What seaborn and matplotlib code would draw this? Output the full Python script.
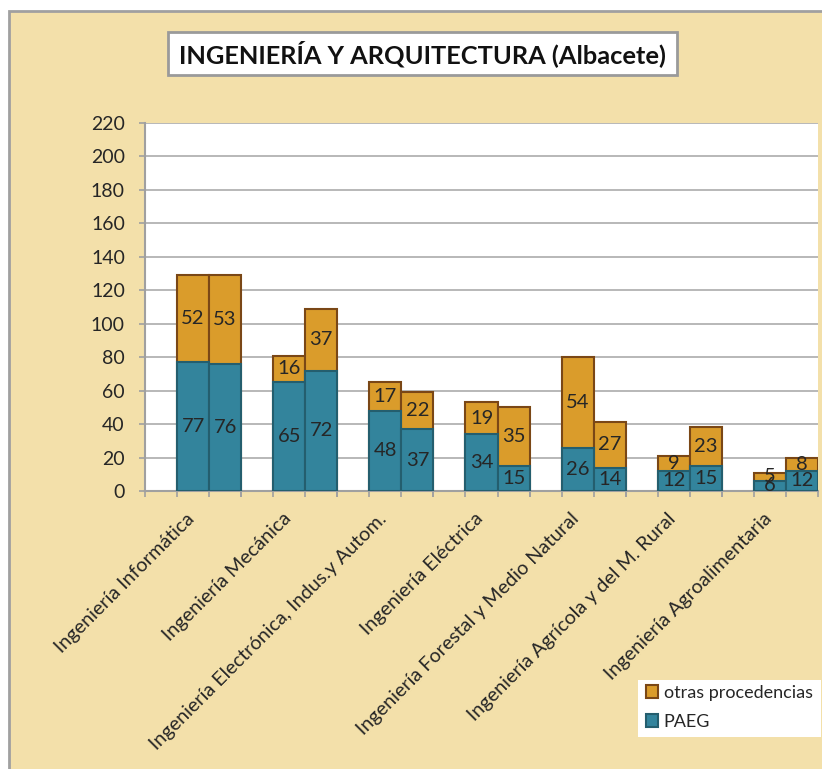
import numpy as np
import pandas as pd
import matplotlib
matplotlib.use("Agg")
import matplotlib.pyplot as plt
from matplotlib.patches import Rectangle, Patch
import seaborn as sns

# ---- data -------------------------------------------------------------
categorias = [
    "Ingeniería Informática",
    "Ingeniería Mecánica",
    "Ingeniería Electrónica, Indus.y Autom.",
    "Ingeniería Eléctrica",
    "Ingeniería Forestal y Medio Natural",
    "Ingeniería Agrícola y del M. Rural",
    "Ingeniería Agroalimentaria",
]
grupos = ["curso 1", "curso 2"]
paeg_1 = [77, 65, 48, 34, 26, 12, 6]
paeg_2 = [76, 72, 37, 15, 14, 15, 12]
otras_1 = [52, 16, 17, 19, 54, 9, 5]
otras_2 = [53, 37, 22, 35, 27, 23, 8]
y_ticks = [0, 20, 40, 60, 80, 100, 120, 140, 160, 180, 200, 220]

# ---- styling ----------------------------------------------------------
sns.set_theme(style="white")
plt.rcParams["font.family"] = ["Lato", "DejaVu Sans"]

TAN = "#F3E0AA"
ORANGE = "#DA9C2B"
ORANGE_EDGE = "#7A4716"
TEAL = "#33849C"
TEAL_EDGE = "#245E6E"
GRID = "#ABABAB"
TEXT = "#262626"

rows = []
for i, cat in enumerate(categorias):
    rows.append((cat, grupos[0], paeg_1[i], otras_1[i]))
    rows.append((cat, grupos[1], paeg_2[i], otras_2[i]))
df = pd.DataFrame(rows, columns=["categoria", "grupo", "PAEG", "otras"])
df["total"] = df["PAEG"] + df["otras"]

W, H, DPI = 822, 769, 100
fig = plt.figure(figsize=(W / DPI, H / DPI), dpi=DPI, facecolor="white")

# chart frame (behind everything, open to the right and bottom)
fig.patches.append(Rectangle((9 / W, -0.1), 1.2, 1.1 - 11 / H, transform=fig.transFigure,
                             facecolor=TAN, edgecolor="#A0A0A0", linewidth=2.0, zorder=-5))

ax = fig.add_axes([145 / W, 1 - 491 / H, (818 - 145) / W, (491 - 123) / H])
ax.set_zorder(1)
ax.set_facecolor("white")

common = dict(data=df, x="categoria", hue="grupo", order=categorias, hue_order=grupos,
              width=2 / 3, dodge=True, saturation=1, legend=False, ax=ax, zorder=3)
sns.barplot(y="total", palette=[ORANGE, ORANGE], edgecolor=ORANGE_EDGE, linewidth=1.5, **common)
sns.barplot(y="PAEG", palette=[TEAL, TEAL], edgecolor=TEAL_EDGE, linewidth=1.5, **common)

# value labels
conts = ax.containers
series_top = [otras_1, otras_2]
series_bot = [paeg_1, paeg_2]
for k in range(2):
    for j, p in enumerate(conts[k]):
        xc = p.get_x() + p.get_width() / 2
        ax.text(xc, series_bot[k][j] + series_top[k][j] / 2, str(series_top[k][j]),
                ha="center", va="center", fontsize=14.5, color=TEXT, zorder=5)
    for j, p in enumerate(conts[k + 2]):
        xc = p.get_x() + p.get_width() / 2
        ax.text(xc, series_bot[k][j] / 2, str(series_bot[k][j]),
                ha="center", va="center", fontsize=14.5, color=TEXT, zorder=5)

# axes
n = len(categorias)
ax.set_xlim(-2 / 3, n - 1 + 1 / 3)
ax.set_ylim(0, 220)
ax.set_yticks(y_ticks)
ax.set_yticklabels([str(v) for v in y_ticks], fontsize=14, color=TEXT)
ax.yaxis.grid(True, color=GRID, linewidth=1.2, zorder=0)
ax.set_axisbelow(True)
ax.set_xlabel("")
ax.set_ylabel("")

# category names sit slightly left of the pair centre; tick marks at every bar edge
label_pos = [i - 0.18 for i in range(n)]
ax.set_xticks(label_pos)
ax.set_xticklabels(categorias, fontsize=14.2, color=TEXT, rotation=45,
                   ha="right", va="center", rotation_mode="anchor")
minor = sorted([i + d for i in range(n) for d in (-2 / 3, -1 / 3, 0, 1 / 3)])
ax.set_xticks(minor, minor=True)

ax.tick_params(axis="x", which="major", bottom=True, length=0, pad=18)
ax.tick_params(axis="x", which="minor", bottom=True, length=4.5, width=1.2, color="#A0A0A0")
ax.tick_params(axis="y", left=True, length=4.5, width=1.2, color="#A0A0A0", pad=10)
for side in ("top", "right"):
    ax.spines[side].set_visible(False)
for side in ("left", "bottom"):
    ax.spines[side].set_color("#A0A0A0")
    ax.spines[side].set_linewidth(1.5)

# title box
fig.patches.append(Rectangle((168 / W, 1 - 75 / H), (677 - 168) / W, 43 / H,
                             transform=fig.transFigure, facecolor="white",
                             edgecolor="#9A9A9A", linewidth=2.0, zorder=1))
fig.text(422.5 / W, 1 - 54 / H, "INGENIERÍA Y ARQUITECTURA (Albacete)",
         ha="center", va="center", fontsize=18.3, fontweight="bold", color="#111111", zorder=2)

# legend
fig.patches.append(Rectangle((638 / W, 1 - 737 / H), (821 - 638) / W, 57 / H,
                             transform=fig.transFigure, facecolor="white",
                             edgecolor="none", zorder=1))
handles = [Patch(facecolor=ORANGE, edgecolor=ORANGE_EDGE, linewidth=1.5, label="otras procedencias"),
           Patch(facecolor=TEAL, edgecolor=TEAL_EDGE, linewidth=1.5, label="PAEG")]
leg = fig.legend(handles=handles, loc="upper left", bbox_to_anchor=(641 / W, 1 - 680 / H),
                 frameon=False, fontsize=13, handlelength=0.7, handleheight=0.7,
                 handletextpad=0.3, labelspacing=0.75, borderpad=0.25, borderaxespad=0,
                 labelcolor=TEXT)
leg.set_zorder(2)

fig.savefig("out.png", dpi=DPI, facecolor="white")
